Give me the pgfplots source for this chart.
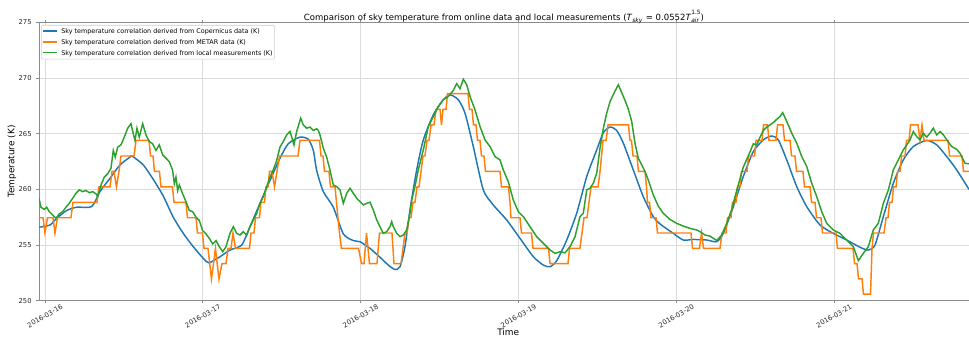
\documentclass[border=0pt]{standalone}
\usepackage{fontspec}
\setmainfont{DejaVu Sans}
\usepackage{pgfplots}
\pgfplotsset{compat=1.18}
\usepackage{pgfplotstable}

\definecolor{c0}{HTML}{1F77B4}
\definecolor{c1}{HTML}{FF7F0E}
\definecolor{c2}{HTML}{2CA02C}

% hours since 2016-03-16 00:00, sky temperature (K)
\pgfplotstableread{
h K
-0.91 256.6
0.76 256.8
1.78 257.4
3.30 258.1
4.82 258.4
7.10 258.45
8.36 259.8
9.89 261.0
11.41 262.2
12.93 262.9
13.23 263.0
14.95 262.2
16.47 260.9
17.99 259.4
19.51 257.5
21.03 256.05
22.55 254.85
24.08 253.8
24.94 253.4
26.62 253.95
28.14 254.55
29.92 255.0
31.18 256.65
32.70 258.75
34.22 260.8
35.74 262.8
37.00 264.1
38.78 264.7
40.05 264.5
40.81 263.5
41.32 261.7
42.33 259.8
43.85 258.4
45.37 256.0
46.89 255.4
47.91 255.3
48.93 254.9
49.43 254.7
50.95 253.9
52.21 253.2
53.23 252.8
53.99 253.05
54.75 254.85
55.51 258.15
56.53 261.75
57.54 264.45
59.06 266.7
60.57 268.05
61.60 268.5
62.86 268.05
63.88 266.85
65.14 263.85
66.66 259.95
68.18 258.6
70.22 257.25
72.24 255.6
74.27 253.95
75.79 253.2
76.81 253.05
77.83 253.6
79.35 255.45
80.86 257.85
82.39 261.15
83.91 263.55
84.92 265.1
85.94 265.6
86.95 265.3
87.96 264.15
89.47 261.75
90.99 259.35
92.51 257.55
93.53 256.9
95.55 256.05
97.08 255.45
98.60 255.5
100.64 255.45
102.16 255.3
103.16 256.05
104.68 258.45
106.20 261.15
107.73 263.4
109.25 264.45
110.52 264.8
111.53 264.45
112.81 262.65
114.33 260.25
115.85 258.45
117.87 256.8
119.89 256.05
121.93 255.45
123.95 254.8
125.21 254.55
126.23 255.0
127.50 257.55
129.02 260.55
130.54 262.65
132.06 263.85
134.09 264.4
135.62 264.0
137.14 262.95
138.66 261.75
140.53 260.0
}\copernicus

\pgfplotstableread{
h K
-0.91 257.45
-0.30 257.45
0.00 256.08
0.38 257.45
1.22 257.45
1.52 256.08
1.90 257.45
3.95 257.45
4.26 258.84
7.91 258.84
8.21 260.22
9.89 260.22
10.19 261.61
10.49 261.61
10.87 260.22
11.25 261.61
11.56 263.00
13.54 263.00
13.84 264.40
15.82 264.40
16.05 263.00
16.43 263.00
16.65 261.61
17.41 261.61
17.64 260.22
19.39 260.22
19.62 258.84
21.44 258.84
21.67 257.45
22.97 257.45
23.19 256.08
23.95 256.08
24.18 254.70
24.79 254.70
25.32 251.95
25.93 254.70
26.46 251.95
26.92 253.32
27.53 253.32
27.83 254.70
28.29 254.70
28.59 256.08
28.97 254.70
31.10 254.70
31.33 256.08
31.79 256.08
32.01 257.45
32.62 257.45
32.85 258.84
33.38 258.84
33.61 260.22
33.92 260.22
34.14 261.61
34.52 261.61
34.91 260.22
35.28 261.61
35.67 263.00
38.48 263.00
38.78 264.40
41.75 264.40
41.98 263.00
42.28 263.00
42.51 261.61
43.19 261.61
43.42 260.22
44.11 260.22
44.33 258.84
44.56 257.45
44.79 256.08
45.09 254.70
47.68 254.70
48.14 253.32
48.52 253.32
48.90 256.08
49.35 253.32
50.49 253.32
50.87 256.08
52.77 256.08
53.08 253.32
54.14 253.32
54.45 254.70
54.75 256.08
55.06 256.08
55.36 257.45
55.67 257.45
55.97 258.84
56.27 258.84
56.58 260.22
56.88 260.22
57.19 261.61
57.49 263.00
57.79 263.00
58.10 264.40
58.40 264.40
58.71 265.79
59.16 265.79
59.47 267.19
60.08 267.19
60.30 265.79
60.53 267.19
60.99 267.19
61.22 268.60
64.33 268.60
64.56 267.19
64.94 267.19
65.17 265.79
65.55 265.79
65.78 264.40
66.16 264.40
66.39 263.00
66.77 263.00
66.99 261.61
69.20 261.61
69.43 260.22
70.49 260.22
70.72 258.84
70.87 257.45
72.24 257.45
72.47 256.08
73.99 256.08
74.22 254.70
76.58 254.70
76.81 253.32
79.54 253.32
79.77 254.70
81.36 254.70
81.67 256.08
81.97 257.45
82.43 257.45
82.74 258.84
83.04 260.22
84.11 260.22
84.41 261.61
84.64 263.00
84.87 264.40
85.33 264.40
85.63 265.79
88.74 265.79
88.97 264.40
89.20 264.40
89.43 263.00
90.04 263.00
90.26 261.61
91.25 261.61
91.48 260.22
91.63 258.84
91.94 258.84
92.16 257.45
92.93 257.45
93.15 256.08
98.25 256.08
98.48 254.70
99.54 254.70
99.85 256.08
100.15 254.70
102.66 254.70
102.97 256.08
103.57 256.08
103.80 257.45
104.33 257.45
104.56 258.84
105.09 258.84
105.32 260.22
105.70 260.22
105.93 261.61
106.77 261.61
106.99 263.00
107.91 263.00
108.14 264.40
109.05 264.40
109.28 265.79
109.89 265.79
110.11 264.40
111.18 264.40
111.41 265.79
112.24 265.79
112.47 264.40
113.31 264.40
113.54 263.00
114.07 263.00
114.29 261.61
115.28 261.61
115.51 260.22
116.35 260.22
116.58 258.84
117.11 258.84
117.34 257.45
118.02 257.45
118.25 256.08
120.30 256.08
120.53 254.70
122.89 254.70
123.12 253.32
123.50 253.32
123.73 251.95
124.26 251.95
124.48 250.58
125.55 250.58
125.78 254.70
126.01 256.08
127.61 256.08
127.91 257.45
128.21 257.45
128.44 258.84
128.82 258.84
129.05 260.22
129.43 260.22
129.66 261.61
130.04 261.61
130.27 263.00
130.80 263.00
131.03 264.40
131.41 264.40
131.63 265.79
132.77 265.79
133.08 264.40
133.38 265.79
133.69 264.40
137.34 264.40
137.57 263.00
139.47 263.00
139.69 261.61
140.53 261.61
}\metar

\pgfplotstableread{
h K
-0.91 259.2
-0.61 258.4
-0.11 258.2
0.26 258.4
0.65 258.0
1.17 257.7
1.67 257.4
2.17 257.8
2.69 258.0
3.19 258.4
3.70 258.75
4.21 259.2
4.71 259.65
5.22 259.95
5.73 259.8
6.24 259.9
6.74 259.7
7.25 259.8
7.76 259.6
8.02 259.35
8.52 260.4
9.02 261.1
9.54 261.4
10.04 261.9
10.39 263.5
10.69 262.9
11.06 263.8
11.56 264.0
12.06 264.7
12.58 265.5
13.08 265.9
13.43 265.0
13.69 264.4
13.99 265.5
14.34 264.7
14.86 265.9
15.36 264.9
15.86 264.3
16.38 264.1
16.88 263.5
17.38 264.0
17.90 263.1
18.40 262.8
18.90 262.5
19.42 261.7
19.67 260.5
19.92 261.1
20.18 259.9
20.43 260.4
20.94 259.6
21.44 258.9
21.95 258.1
22.46 258.0
22.97 257.5
23.47 257.2
23.98 256.3
24.49 256.0
24.99 255.6
25.51 255.1
26.01 255.4
26.51 254.85
27.03 254.4
27.53 254.85
28.14 256.05
28.64 256.65
29.16 256.05
29.66 255.9
30.16 256.2
30.68 255.9
31.18 256.65
31.68 257.25
32.20 257.85
32.70 258.75
33.20 259.35
33.72 260.25
34.22 261.1
34.72 261.75
35.24 262.6
35.74 263.8
36.24 264.3
36.76 264.9
37.26 265.2
37.52 264.7
37.87 264.0
38.28 265.2
38.89 266.4
39.28 265.8
39.80 265.5
40.29 265.6
40.81 265.3
41.32 265.45
41.57 265.3
41.82 264.9
42.33 263.7
42.84 262.9
43.34 261.75
43.85 260.4
44.36 260.25
44.87 259.95
45.37 258.75
45.89 259.65
46.39 260.1
46.89 259.65
47.41 259.2
47.91 258.9
48.41 258.6
48.93 258.75
49.43 258.85
49.93 258.15
50.45 257.25
50.95 256.65
51.45 256.05
51.97 256.2
52.47 256.65
52.73 257.1
52.97 256.65
53.49 256.05
53.99 255.75
54.49 255.9
55.01 256.35
55.51 257.85
55.77 259.05
56.27 260.25
56.77 261.75
57.54 263.55
58.30 265.65
59.06 266.55
59.82 267.45
60.57 268.05
61.34 268.35
62.10 268.9
62.62 269.5
63.12 269.05
63.62 269.9
64.14 269.4
64.64 268.35
65.40 267.15
66.16 265.65
66.92 264.45
67.68 263.85
68.44 262.95
69.20 262.65
69.70 261.75
70.46 260.7
71.22 259.05
71.99 258.0
72.75 257.55
73.76 256.65
74.78 255.75
75.79 255.15
76.81 254.55
77.57 254.25
78.33 254.4
79.09 254.3
79.85 254.85
80.61 255.75
81.36 257.55
81.87 257.85
82.39 259.95
82.89 260.1
83.39 260.55
83.91 261.45
84.41 263.7
84.92 265.5
85.43 266.85
85.94 267.9
86.70 268.85
87.20 269.4
87.71 268.7
88.21 268.0
88.72 267.2
89.23 266.1
89.73 264.15
90.23 262.8
90.75 262.2
91.25 261.6
91.75 260.85
92.51 259.5
93.27 258.5
94.03 257.85
95.05 257.3
96.07 256.95
97.08 256.7
98.10 256.5
99.12 256.35
99.62 256.2
100.38 255.9
101.14 255.8
102.16 255.4
102.92 255.9
103.68 256.95
104.44 258.2
105.20 259.9
106.20 262.0
106.96 263.0
107.73 264.1
108.24 264.0
108.75 264.7
109.25 265.3
109.76 265.6
110.27 265.8
110.77 266.0
111.29 266.3
111.79 266.55
112.20 266.9
112.81 266.1
113.57 265.05
114.33 264.15
115.09 262.95
115.85 262.05
116.61 260.55
117.37 259.35
118.13 258.0
118.89 256.95
119.89 256.35
120.91 256.05
121.93 255.45
122.94 254.85
123.70 253.6
124.45 254.25
125.21 254.85
125.97 256.35
126.74 256.95
127.50 258.75
128.26 259.95
129.02 261.75
129.78 262.65
130.54 263.55
131.06 264.0
131.56 264.45
132.06 265.2
132.57 264.75
133.08 264.45
133.58 265.05
134.09 264.7
134.60 265.05
135.10 265.5
135.62 264.9
136.12 265.2
136.63 264.9
137.14 264.45
137.90 263.85
138.66 263.6
139.16 263.25
139.92 262.35
140.53 262.3
}\local

\newcommand{\scr}{\fontsize{4.4}{5}\selectfont}
\newcommand{\legline}[1]{\textcolor{#1}{\rule[1.35pt]{10.5pt}{1.1pt}}\hspace{3pt}}

\begin{document}
\begin{tikzpicture}
\begin{axis}[
  scale only axis,
  width=697.5pt, height=208.65pt,
  xmin=-0.91, xmax=140.53,
  ymin=250, ymax=275,
  xtick={0,24,48,72,96,120},
  xticklabels={2016-03-16,2016-03-17,2016-03-18,2016-03-19,2016-03-20,2016-03-21},
  ytick={250,255,260,265,270,275},
  grid=major,
  grid style={color=black!14, line width=0.6pt},
  axis line style={black!45, line width=0.6pt},
  tick style={black!45, line width=0.6pt},
  tick align=outside,
  major tick length=2pt,
  tick label style={font=\fontsize{5.1}{5.5}\selectfont, text=black!85},
  /pgf/number format/assume math mode=true,
  xticklabel style={yshift=-9.6pt, rotate=30, anchor=center},
  yticklabel style={anchor=east},
  every axis title shift=0pt,
  title={Comparison of sky temperature from online data and local measurements (\textit{T}\textsubscript{\textit{sky}} = 0.0552\textit{T}\raisebox{-1.9pt}{\scr\shortstack[l]{1.5\\\itshape air}})},
  title style={font=\fontsize{6.4}{7}\selectfont, at={(axis description cs:0.5,1.008)}, anchor=base},
  xlabel={Time},
  xlabel style={font=\fontsize{6.7}{7}\selectfont, at={(axis description cs:0.5045,-0.1135)}, anchor=center},
  ylabel={Temperature (K)},
  ylabel style={font=\fontsize{6.7}{7}\selectfont, at={(axis description cs:-0.029,0.5)}, anchor=center},
]
\addplot[c0, line width=1.1pt, smooth, tension=0.4] table[x=h, y=K] {\copernicus};
\addplot[c1, line width=1.1pt] table[x=h, y=K] {\metar};
\addplot[c2, line width=1.1pt] table[x=h, y=K] {\local};
\node[draw=black!20, rounded corners=1pt, fill=white, anchor=north west,
      inner xsep=1.5pt, inner ysep=0.6pt, font=\fontsize{4.8}{5.5}\selectfont]
  at (axis description cs:0.0022,0.991)
  {\renewcommand{\arraystretch}{1.47}%
   \begin{tabular}{@{}l@{}}
   \legline{c0}Sky temperature correlation derived from Copernicus data (K)\\
   \legline{c1}Sky temperature correlation derived from METAR data (K)\\
   \legline{c2}Sky temperature correlation derived from local measurements (K)
   \end{tabular}};
\end{axis}
\pgfresetboundingbox
\path[use as bounding box] (-29.25pt,-26.5pt) rectangle (697.5pt,225.5pt);
\end{tikzpicture}
\end{document}
